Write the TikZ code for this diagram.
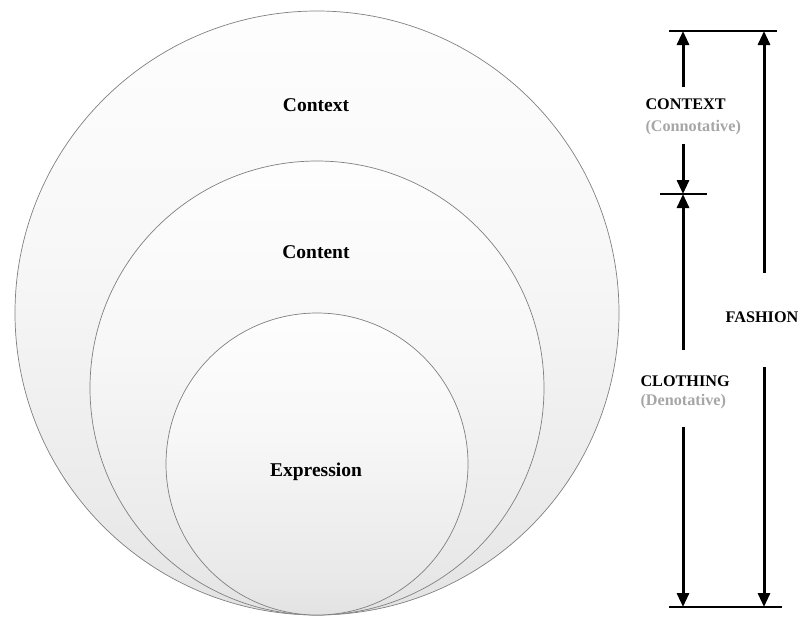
\documentclass[tikz,border=0pt]{standalone}
\usepackage{fontspec}
\setmainfont{Liberation Serif}
\usetikzlibrary{arrows.meta}

% light vertical fade: white at the top, grey only near the bottom
\pgfdeclareverticalshading{ringfade}{100bp}{%
  color(0bp)=(black!24); color(12bp)=(black!17); color(30bp)=(black!9);
  color(55bp)=(black!3); color(80bp)=(white); color(100bp)=(white)}

\tikzset{
  ring/.style={circle, draw=black!50, line width=0.7pt, inner sep=0pt, outer sep=0pt,
    shading=ringfade},
  ringlabel/.style={anchor=base, font=\fontsize{19.5}{22}\selectfont\bfseries},
  sidelabel/.style={anchor=base west, font=\fontsize{16.2}{19}\selectfont\bfseries},
  sidenote/.style={anchor=base west, text=black!35, font=\fontsize{16.2}{19}\selectfont\bfseries},
  rangearrow/.style={line width=3pt, -{Triangle[width=12pt,length=14pt]}},
  limit/.style={line width=1.8pt}
}

\begin{document}
\begin{tikzpicture}[x=1pt, y=-1pt]
  \useasboundingbox (0,0) rectangle (801,619);

  % nested circles, all touching at the bottom
  \node[ring, minimum size=604pt] (outer) at (317,313) {};
  \node[ring, minimum size=454pt] (middle) at (317,388) {};
  \node[ring, minimum size=302pt] (inner) at (317,464) {};

  \node[ringlabel] (context) at (316,111) {Context};
  \node[ringlabel] (content) at (316,258) {Content};
  \node[ringlabel] (expression) at (316,476) {Expression};

  % limit lines of the scale
  \coordinate (topL) at (669,31);   \coordinate (topR) at (777,31);
  \coordinate (midL) at (660,194);  \coordinate (midR) at (707,194);
  \coordinate (botL) at (669,607);  \coordinate (botR) at (782,607);
  \draw[limit] (topL) -- (topR);
  \draw[limit] (midL) -- (midR);
  \draw[limit] (botL) -- (botR);

  % left column end points
  \coordinate (ctxTop) at (683,31);   \coordinate (ctxA) at (683,87);
  \coordinate (ctxB) at (683,144);    \coordinate (ctxBot) at (683,194);
  \coordinate (clTop) at (683,194);   \coordinate (clA) at (683,350);
  \coordinate (clB) at (683,427);     \coordinate (clBot) at (683,607);
  % right column end points
  \coordinate (fTop) at (764,31);     \coordinate (fA) at (764,273);
  \coordinate (fB) at (764,367);      \coordinate (fBot) at (764,607);

  \draw[rangearrow] (ctxA) -- (ctxTop);
  \draw[rangearrow] (ctxB) -- (ctxBot);
  \draw[rangearrow] (clA) -- (clTop);
  \draw[rangearrow] (clB) -- (clBot);
  \draw[rangearrow] (fA) -- (fTop);
  \draw[rangearrow] (fB) -- (fBot);

  \node[sidelabel] (ctxlabel) at (642,109) {CONTEXT};
  \node[sidenote] (ctxnote) at (642,131) {(Connotative)};
  \node[sidelabel] (cllabel) at (637,386) {CLOTHING};
  \node[sidenote] (clnote) at (637,405) {(Denotative)};
  \node[sidelabel, anchor=base] (fashion) at (762,322) {FASHION};
\end{tikzpicture}
\end{document}
